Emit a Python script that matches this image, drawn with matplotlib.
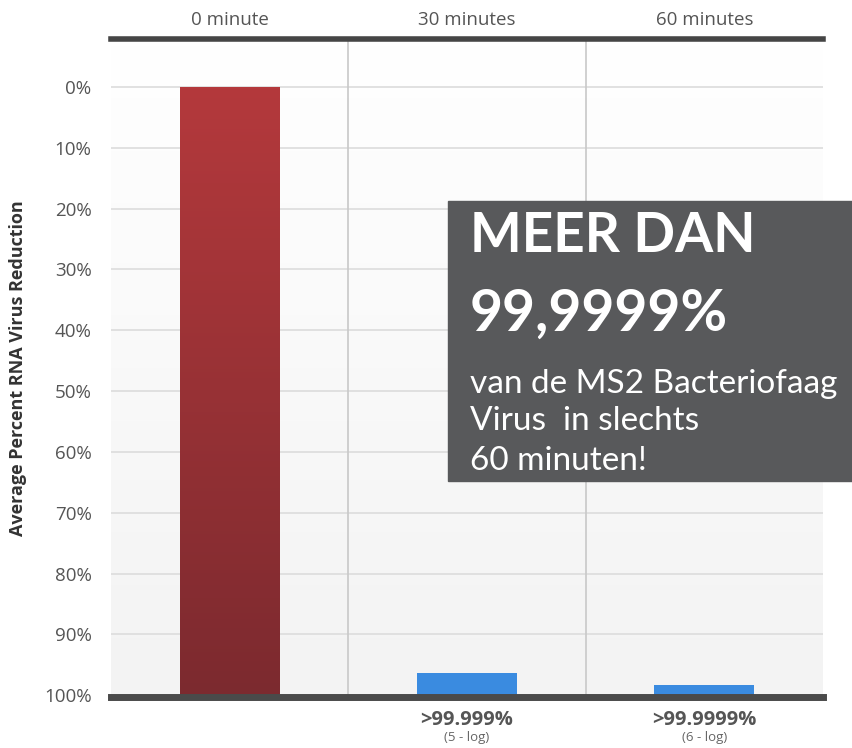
import numpy as np
import matplotlib.pyplot as plt
from matplotlib.colors import LinearSegmentedColormap

# data: level of the bar top on the (inverted) reduction scale, in %
times = ["0 minute", "30 minutes", "60 minutes"]
reduction_top = [0.0, 96.4, 98.3]
bar_labels = ["", ">99.999%", ">99.9999%"]
bar_sublabels = ["", "(5 - log)", "(6 - log)"]
yticks = [0, 10, 20, 30, 40, 50, 60, 70, 80, 90, 100]

plt.rcParams['font.family'] = ['Open Sans', 'DejaVu Sans']

fig = plt.figure(figsize=(8.53, 7.48), dpi=100)
ax = fig.add_axes([111/853, 1 - 697/748, 712/853, 658/748])

x = np.arange(len(times))
ax.set_xlim(-0.5, 2.5)
ax.set_ylim(100.3, -7.9)

# background: faint vertical gradient
bg = np.linspace(0, 1, 100).reshape(-1, 1)
bg_cmap = LinearSegmentedColormap.from_list("bg", ["#ffffff", "#f3f3f3"])
ax.imshow(bg, cmap=bg_cmap, aspect="auto", extent=(-0.5, 2.5, 100.3, -7.9), zorder=0)

for t in yticks:
    ax.axhline(t, color="#dcdcdc", lw=1.2, zorder=1)
for b in [0.5, 1.5]:
    ax.axvline(b, color="#c8c8c8", lw=1.2, zorder=1)

width = 0.42
heights = [100 - v for v in reduction_top]
colors = ["#b03a3c", "#3a8be0", "#3a8be0"]
bars = ax.bar(x, heights, width=width, bottom=reduction_top, color=colors, zorder=2)

# gradient on the red bar
red_cmap = LinearSegmentedColormap.from_list("red", ["#b4393c", "#7c2a2f"])
r = bars[0]
grad = np.linspace(0, 1, 200).reshape(-1, 1)
im = ax.imshow(grad, cmap=red_cmap, aspect="auto",
               extent=(r.get_x(), r.get_x() + r.get_width(), 100, 0), zorder=3)
im.set_clip_path(r)

ax.axhline(-7.9, color="#454545", lw=4, zorder=4, clip_on=False)
ax.axhline(100.3, color="#4a4a4a", lw=5, zorder=4, clip_on=False)

for s in ax.spines.values():
    s.set_visible(False)

ax.xaxis.tick_top()
ax.set_xticks(x)
ax.set_xticklabels(times, fontsize=13.5, color="#555555")
ax.tick_params(axis="x", length=0, pad=7)
ax.set_yticks(yticks)
ax.set_yticklabels([f"{t}%" for t in yticks], fontsize=13.5, color="#555555")
ax.tick_params(axis="y", length=0, pad=14)

ax.set_ylabel("Average Percent RNA Virus Reduction", fontsize=13,
              fontweight="bold", color="#333333", labelpad=12)

for i in range(len(times)):
    if bar_labels[i]:
        ax.text(x[i], 104.0, bar_labels[i], ha="center", va="center",
                fontsize=14.5, fontweight="bold", color="#555555", clip_on=False)
        ax.text(x[i], 106.9, bar_sublabels[i], ha="center", va="center",
                fontsize=9.5, color="#666666", clip_on=False)

# callout box
fig.patches.append(plt.Rectangle((448/853, 1 - 481/748), 405/853, 280/748,
                                 transform=fig.transFigure, color="#58595b", zorder=5))
fig.text(470/853, 1 - 236/748, "MEER DAN", fontsize=39.5, fontweight="bold",
         color="white", va="center", ha="left", family=["Lato", "DejaVu Sans"], zorder=6)
fig.text(470/853, 1 - 314/748, "99,9999%", fontsize=41, fontweight="bold",
         color="white", va="center", ha="left", family=["Lato", "DejaVu Sans"], zorder=6)
for txt, yy in [("van de MS2 Bacteriofaag", 384), ("Virus  in slechts", 421),
                ("60 minuten!", 461)]:
    fig.text(470/853, 1 - yy/748, txt, fontsize=24, color="white", va="center",
             ha="left", family=["Lato", "DejaVu Sans"], zorder=6)

fig.savefig("out.png", dpi=100)
